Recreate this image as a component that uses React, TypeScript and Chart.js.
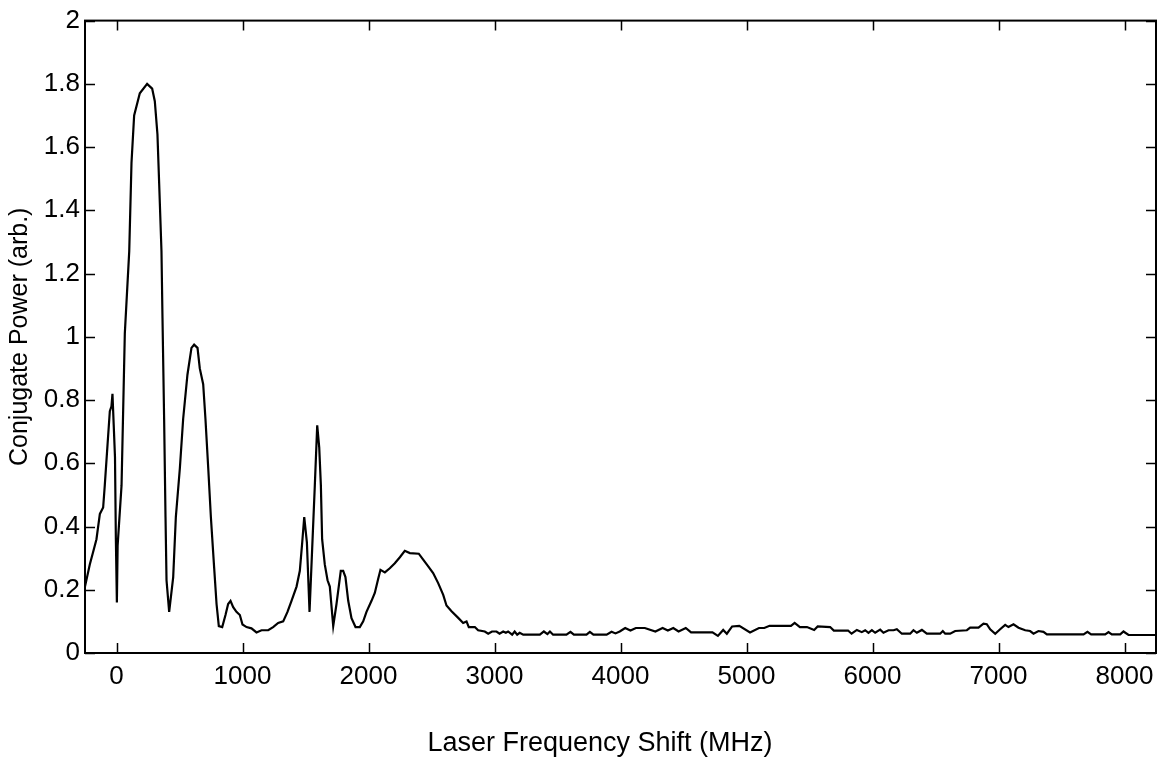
import React, { useEffect, useRef } from "react";
import { Chart, registerables } from "chart.js";

Chart.register(...registerables);

const freqMHz = [
  -250, -212, -185, -159, -132, -106, -93, -71, -53, -40, -32, -22, -12, -5, 3, 9, 40, 53, 66, 101,
  119, 140, 185, 243, 283, 304, 325, 339, 357, 365, 378, 389, 397, 418, 450, 471, 503, 529, 563, 595,
  616, 643, 661, 688, 706, 728, 749, 775, 794, 812, 839, 865, 886, 905, 926, 952, 979, 1000, 1032, 1071,
  1111, 1151, 1204, 1243, 1283, 1323, 1357, 1389, 1429, 1455, 1474, 1490, 1511, 1532, 1553, 1574, 1593, 1609, 1622, 1632,
  1653, 1675, 1693, 1720, 1746, 1780, 1799, 1817, 1839, 1865, 1897, 1931, 1958, 1984, 2024, 2050, 2077, 2095, 2130, 2169,
  2209, 2249, 2288, 2328, 2399, 2434, 2474, 2513, 2553, 2593, 2619, 2659, 2712, 2751, 2778, 2796, 2844, 2870, 2923, 2950,
  2980, 3016, 3040, 3069, 3090, 3108, 3140, 3160, 3180, 3200, 3228, 3360, 3392, 3420, 3440, 3465, 3571, 3603, 3630, 3730,
  3757, 3785, 3890, 3929, 3960, 3994, 4037, 4079, 4122, 4193, 4277, 4334, 4376, 4419, 4461, 4518, 4560, 4730, 4773, 4815,
  4844, 4886, 4943, 5028, 5099, 5141, 5183, 5353, 5382, 5424, 5480, 5537, 5565, 5664, 5693, 5806, 5834, 5876, 5915, 5942,
  5968, 5995, 6021, 6061, 6087, 6127, 6167, 6193, 6233, 6299, 6325, 6352, 6392, 6431, 6537, 6558, 6577, 6616, 6656, 6749,
  6775, 6841, 6881, 6907, 6934, 6974, 7013, 7053, 7079, 7119, 7159, 7212, 7251, 7278, 7317, 7357, 7384, 7675, 7706, 7735,
  7847, 7873, 7899, 7966, 7992, 8032, 8250,
];

const conjugatePower = [
  0.21, 0.28, 0.32, 0.36, 0.44, 0.46, 0.53, 0.66, 0.765, 0.78, 0.82, 0.72, 0.62, 0.36, 0.16, 0.34, 0.53, 0.77, 1.01, 1.27,
  1.55, 1.7, 1.77, 1.8, 1.785, 1.745, 1.64, 1.48, 1.27, 1.06, 0.74, 0.43, 0.23, 0.13, 0.24, 0.43, 0.585, 0.74, 0.88, 0.965,
  0.975, 0.965, 0.9, 0.85, 0.74, 0.585, 0.43, 0.27, 0.155, 0.085, 0.082, 0.12, 0.155, 0.165, 0.145, 0.13, 0.12, 0.09, 0.082, 0.078,
  0.065, 0.072, 0.072, 0.082, 0.095, 0.1, 0.13, 0.165, 0.21, 0.26, 0.35, 0.43, 0.35, 0.13, 0.33, 0.53, 0.72, 0.65, 0.53, 0.36,
  0.28, 0.23, 0.21, 0.085, 0.155, 0.26, 0.26, 0.24, 0.165, 0.11, 0.082, 0.082, 0.1, 0.13, 0.165, 0.19, 0.235, 0.263, 0.255, 0.268,
  0.284, 0.303, 0.323, 0.316, 0.314, 0.295, 0.274, 0.253, 0.221, 0.184, 0.15, 0.132, 0.111, 0.095, 0.1, 0.082, 0.082, 0.072, 0.068, 0.061,
  0.068, 0.068, 0.061, 0.068, 0.064, 0.068, 0.058, 0.068, 0.058, 0.064, 0.058, 0.058, 0.068, 0.06, 0.068, 0.058, 0.058, 0.067, 0.058, 0.058,
  0.067, 0.058, 0.058, 0.067, 0.062, 0.068, 0.079, 0.071, 0.079, 0.079, 0.068, 0.079, 0.071, 0.079, 0.068, 0.079, 0.065, 0.065, 0.054, 0.073,
  0.061, 0.084, 0.086, 0.065, 0.079, 0.079, 0.086, 0.086, 0.095, 0.082, 0.082, 0.073, 0.084, 0.082, 0.071, 0.071, 0.061, 0.073, 0.066, 0.072,
  0.064, 0.072, 0.064, 0.074, 0.064, 0.072, 0.072, 0.075, 0.061, 0.061, 0.072, 0.064, 0.073, 0.061, 0.061, 0.0695, 0.061, 0.061, 0.0695, 0.072,
  0.08, 0.08, 0.093, 0.091, 0.075, 0.061, 0.075, 0.089, 0.082, 0.091, 0.08, 0.072, 0.0695, 0.061, 0.0695, 0.067, 0.059, 0.059, 0.067, 0.059,
  0.059, 0.066, 0.059, 0.059, 0.068, 0.057, 0.057,
];

const xTickValues = [0, 1000, 2000, 3000, 4000, 5000, 6000, 7000, 8000];
const yTickValues = [0, 0.2, 0.4, 0.6, 0.8, 1, 1.2, 1.4, 1.6, 1.8, 2];

const xTitle = "Laser Frequency Shift (MHz)";
const yTitle = "Conjugate Power (arb.)";

const FONT = "'Liberation Sans', Arial, Helvetica, sans-serif";

const framePlugin = {
  id: "matlabFrame",
  afterDraw(chart: any) {
    const { ctx, chartArea } = chart;
    const { left, right, top, bottom } = chartArea;
    const xs = chart.scales.x;
    const ys = chart.scales.y;
    const tick = 10;
    ctx.save();
    ctx.strokeStyle = "#000";
    ctx.lineWidth = 1.5;
    ctx.beginPath();
    xTickValues.forEach((v) => {
      const px = Math.round(xs.getPixelForValue(v)) + 0.5;
      ctx.moveTo(px, bottom);
      ctx.lineTo(px, bottom - tick);
      ctx.moveTo(px, top);
      ctx.lineTo(px, top + tick);
    });
    yTickValues.forEach((v) => {
      const py = Math.round(ys.getPixelForValue(v)) + 0.5;
      ctx.moveTo(left, py);
      ctx.lineTo(left + tick, py);
      ctx.moveTo(right, py);
      ctx.lineTo(right - tick, py);
    });
    ctx.stroke();
    ctx.lineWidth = 2;
    ctx.strokeRect(left, top, right - left, bottom - top);

    // x-axis title, placed where the original figure has it
    ctx.fillStyle = "#000";
    ctx.font = `27px ${FONT}`;
    ctx.textAlign = "center";
    ctx.textBaseline = "middle";
    ctx.fillText(xTitle, 600, 744);
    ctx.restore();
  },
};

export default function App() {
  const canvasRef = useRef<HTMLCanvasElement | null>(null);

  useEffect(() => {
    if (!canvasRef.current) return;
    const chart = new Chart(canvasRef.current, {
      type: "line",
      data: {
        datasets: [
          {
            data: freqMHz.map((x, i) => ({ x, y: conjugatePower[i] })),
            borderColor: "#000",
            borderWidth: 2.2,
            pointRadius: 0,
            tension: 0,
            fill: false,
          },
        ],
      },
      options: {
        responsive: false,
        animation: false,
        events: [],
        layout: { padding: { top: 19, right: 6, left: 0, bottom: 0 } },
        plugins: {
          legend: { display: false },
          tooltip: { enabled: false },
        },
        scales: {
          x: {
            type: "linear",
            min: -250,
            max: 8250,
            afterBuildTicks: (scale: any) => {
              scale.ticks = xTickValues.map((value) => ({ value }));
            },
            afterFit: (scale: any) => {
              scale.height = 108;
            },
            grid: { display: false, drawTicks: false },
            border: { display: false },
            ticks: {
              color: "#000",
              padding: 8,
              maxRotation: 0,
              font: { family: FONT, size: 26 },
              callback: (v: any) => String(v),
            },
            title: { display: false, text: xTitle },
          },
          y: {
            type: "linear",
            min: 0,
            max: 2,
            afterBuildTicks: (scale: any) => {
              scale.ticks = yTickValues.map((value) => ({ value }));
            },
            afterFit: (scale: any) => {
              scale.width = 85;
            },
            grid: { display: false, drawTicks: false },
            border: { display: false },
            ticks: {
              color: "#000",
              padding: 5,
              font: { family: FONT, size: 26 },
              callback: (v: any) => String(Number(Number(v).toFixed(1))),
            },
            title: {
              display: true,
              text: yTitle,
              color: "#000",
              font: { family: FONT, size: 25 },
              padding: { top: 5, bottom: 0 },
            },
          },
        },
      },
      plugins: [framePlugin],
    });
    return () => chart.destroy();
  }, []);

  return (
    <div style={{ position: "absolute", left: 0, top: 0, width: 1162, height: 761, background: "#fff" }}>
      <canvas ref={canvasRef} width={1162} height={761} style={{ display: "block" }} />
    </div>
  );
}
